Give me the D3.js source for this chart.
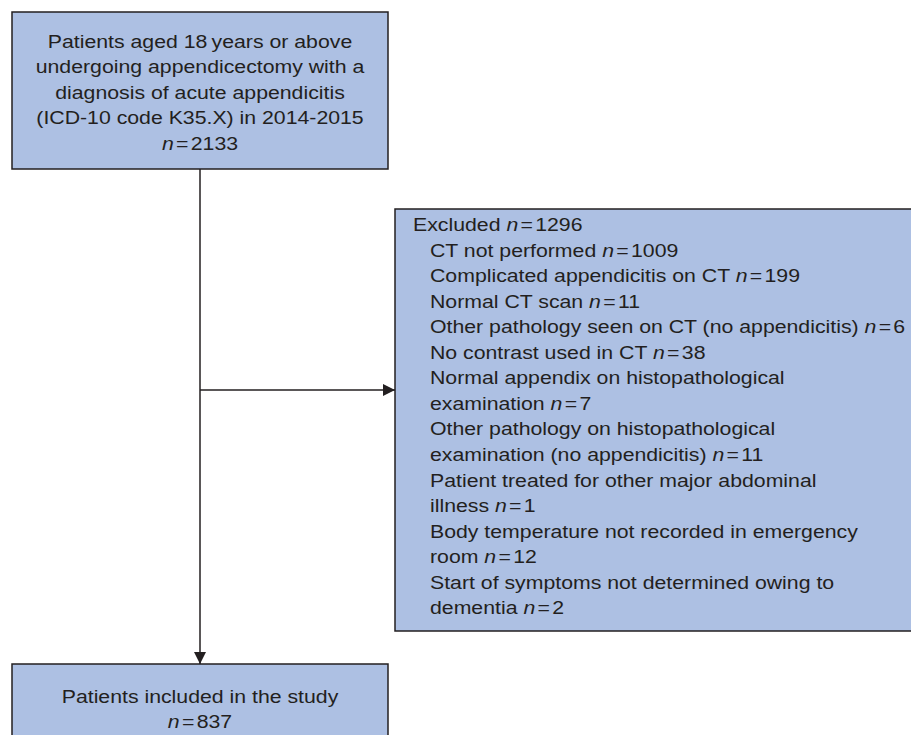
<!DOCTYPE html>
<html>
<head>
<meta charset="utf-8">
<script src="https://cdn.jsdelivr.net/npm/d3@7"></script>
<style>
  html, body { margin: 0; padding: 0; background: #fff; }
  svg { display: block; }
</style>
</head>
<body>
<div id="chart"></div>
<script>
// Study flow chart - appendicectomy cohort
const startLines = [
  'Patients aged 18\u2009years or above',
  'undergoing appendicectomy with a',
  'diagnosis of acute appendicitis',
  '(ICD-10 code K35.X) in 2014-2015'
];
const startN = 2133;

const excludedN = 1296;
// each reason: wrapped text lines, last line gets the count
const reasonLines = [
  ['CT not performed'],
  ['Complicated appendicitis on CT'],
  ['Normal CT scan'],
  ['Other pathology seen on CT (no appendicitis)'],
  ['No contrast used in CT'],
  ['Normal appendix on histopathological', 'examination'],
  ['Other pathology on histopathological', 'examination (no appendicitis)'],
  ['Patient treated for other major abdominal', 'illness'],
  ['Body temperature not recorded in emergency', 'room'],
  ['Start of symptoms not determined owing to', 'dementia']
];
const reasonN = [1009, 199, 11, 6, 38, 7, 11, 1, 12, 2];

const includedLines = ['Patients included in the study'];
const includedN = 837;

(function() {
  const width = 911;
  const height = 735;

  const fill = '#adc0e3';
  const stroke = '#231f20';
  const textColor = '#231f20';
  const font = '"Liberation Sans", Arial, Helvetica, sans-serif';
  const fontSize = 18.5;
  const stretch = 1.15; // the original type is set a bit wide

  const svg = d3.select('#chart').append('svg')
    .attr('width', width)
    .attr('height', height);

  const defs = svg.append('defs');
  defs.append('marker')
    .attr('id', 'arrow')
    .attr('viewBox', '0 0 10 10')
    .attr('refX', 10)
    .attr('refY', 5)
    .attr('markerWidth', 12)
    .attr('markerHeight', 12)
    .attr('markerUnits', 'userSpaceOnUse')
    .attr('orient', 'auto')
    .append('path')
    .attr('d', 'M0,0 L10,5 L0,10 Z')
    .attr('fill', stroke);

  // writes "label n = value" with italic n
  function nText(sel, label, value) {
    if (label) sel.append('tspan').text(label + ' ');
    sel.append('tspan').attr('font-style', 'italic').text('n');
    sel.append('tspan').attr('dx', 2).text('=');
    sel.append('tspan').attr('dx', 2).text(value);
  }

  function addText(g, x, y) {
    return g.append('text')
      .attr('transform', `translate(${x},${y}) scale(${stretch},1)`);
  }

  // Boxes
  const topBox = { x: 12, y: 12, w: 376, h: 157 };
  const exBox = { x: 395, y: 209, w: 530, h: 422 };
  const botBox = { x: 12, y: 664, w: 376, h: 90 };

  [topBox, exBox, botBox].forEach(b => {
    svg.append('rect')
      .attr('x', b.x)
      .attr('y', b.y)
      .attr('width', b.w)
      .attr('height', b.h)
      .attr('fill', fill)
      .attr('stroke', stroke)
      .attr('stroke-width', 1.5);
  });

  // Connectors
  const cx = topBox.x + topBox.w / 2;
  svg.append('line')
    .attr('x1', cx).attr('y1', topBox.y + topBox.h)
    .attr('x2', cx).attr('y2', botBox.y)
    .attr('stroke', stroke)
    .attr('stroke-width', 1.5)
    .attr('marker-end', 'url(#arrow)');

  svg.append('line')
    .attr('x1', cx).attr('y1', 390)
    .attr('x2', exBox.x).attr('y2', 390)
    .attr('stroke', stroke)
    .attr('stroke-width', 1.5)
    .attr('marker-end', 'url(#arrow)');

  // Top box text
  const topY = d3.scaleLinear().domain([0, 1]).range([47.5, 73.1]);
  const topG = svg.append('g')
    .attr('font-family', font)
    .attr('font-size', fontSize)
    .attr('fill', textColor)
    .attr('text-anchor', 'middle');
  startLines.forEach((t, i) => {
    addText(topG, cx, topY(i)).text(t);
  });
  addText(topG, cx, topY(startLines.length))
    .call(s => nText(s, '', startN));

  // Excluded box text
  const exY = d3.scaleLinear().domain([0, 1]).range([231, 256.55]);
  const exG = svg.append('g')
    .attr('font-family', font)
    .attr('font-size', fontSize)
    .attr('fill', textColor);
  addText(exG, 413, exY(0))
    .call(s => nText(s, 'Excluded', excludedN));

  let row = 1;
  reasonLines.forEach((lines, i) => {
    lines.forEach((t, j) => {
      const txt = addText(exG, 430, exY(row));
      if (j === lines.length - 1) nText(txt, t, reasonN[i]);
      else txt.text(t);
      row++;
    });
  });

  // Included box text
  const botY = d3.scaleLinear().domain([0, 1]).range([703, 728]);
  const botG = svg.append('g')
    .attr('font-family', font)
    .attr('font-size', fontSize)
    .attr('fill', textColor)
    .attr('text-anchor', 'middle');
  includedLines.forEach((t, i) => {
    addText(botG, cx, botY(i)).text(t);
  });
  addText(botG, cx, botY(includedLines.length))
    .call(s => nText(s, '', includedN));
})();
</script>
</body>
</html>
